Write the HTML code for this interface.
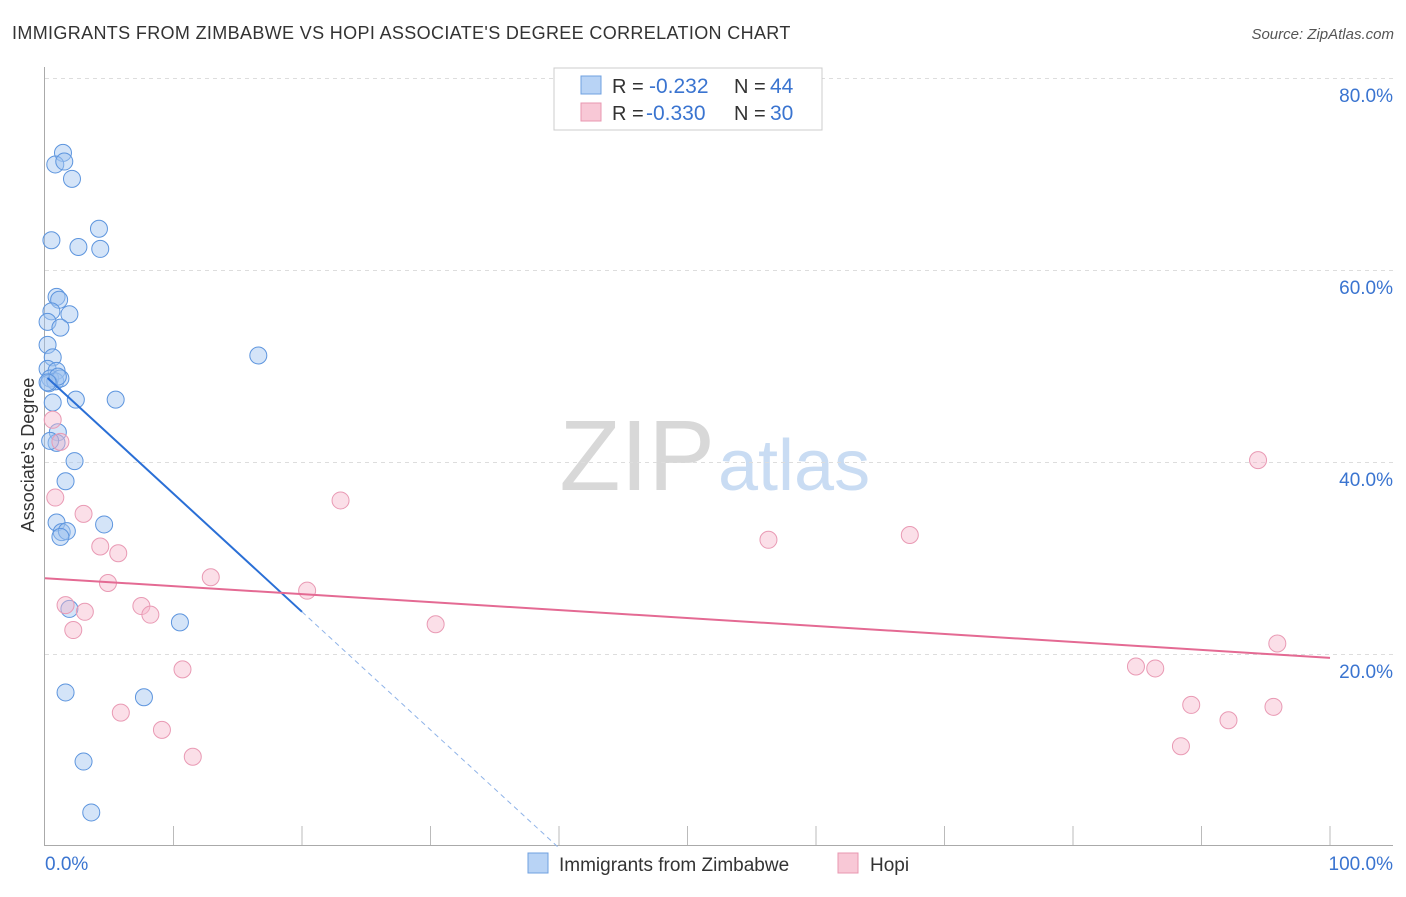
<!DOCTYPE html>
<html><head><meta charset="utf-8"><style>
body{margin:0;background:#fff;font-family:"Liberation Sans",sans-serif;}
svg text{font-family:"Liberation Sans",sans-serif;}
</style></head><body>
<svg id="c" width="1406" height="892">
<text x="12" y="39" font-size="18" fill="#333" letter-spacing="0.35">IMMIGRANTS FROM ZIMBABWE VS HOPI ASSOCIATE'S DEGREE CORRELATION CHART</text>
<text x="1394" y="39" font-size="15" fill="#555" font-style="italic" text-anchor="end">Source: ZipAtlas.com</text>
<text x="715" y="490" font-size="100" fill="#d8d8d8" text-anchor="end" font-family="Liberation Serif">ZIP</text>
<text x="718" y="490" font-size="72" fill="#c9dcf3">atlas</text>
<text transform="translate(34,455) rotate(-90)" font-size="18" fill="#333" text-anchor="middle">Associate's Degree</text>
<g id="grid"></g><g id="pts"></g><g id="lines"></g>
<g>
<rect x="554" y="68" width="268" height="62" fill="#fff" stroke="#ccc"/>
<rect x="581" y="76" width="20" height="18" fill="#b8d3f5" stroke="#6fa0e0"/>
<rect x="581" y="103" width="20" height="18" fill="#f8c8d6" stroke="#e897b0"/>
<text x="612" y="93" font-size="20" fill="#333">R = </text>
<text x="649" y="93" font-size="21" fill="#3a74d0">-0.232</text>
<text x="734" y="93" font-size="20" fill="#333">N = </text>
<text x="770" y="93" font-size="21" fill="#3a74d0">44</text>
<text x="612" y="120" font-size="20" fill="#333">R = </text>
<text x="646" y="120" font-size="21" fill="#3a74d0">-0.330</text>
<text x="734" y="120" font-size="20" fill="#333">N = </text>
<text x="770" y="120" font-size="21" fill="#3a74d0">30</text>
</g>
<g>
<rect x="528" y="853" width="20" height="20" fill="#b8d3f5" stroke="#6fa0e0"/>
<text x="559" y="871" font-size="19" fill="#333">Immigrants from Zimbabwe</text>
<rect x="838" y="853" width="20" height="20" fill="#f8c8d6" stroke="#e897b0"/>
<text x="870" y="871" font-size="19" fill="#333">Hopi</text>
</g>
<text x="45" y="870" font-size="19" fill="#3a74d0">0.0%</text>
<text x="1393" y="870" font-size="19" fill="#3a74d0" text-anchor="end">100.0%</text>
</svg>
<script>
const yTicks=[20,40,60,80];
const yTickLabels=["20.0%","40.0%","60.0%","80.0%"];
const blueX=[1.4,0.8,1.5,2.1,0.5,4.2,2.6,4.3,0.9,1.1,1.9,0.5,0.2,1.2,0.2,0.6,0.2,0.9,0.4,0.8,1.2,0.3,1.0,0.6,2.4,5.5,16.6,1.0,0.9,2.3,1.6,4.6,0.9,1.3,1.7,1.2,1.9,10.5,1.6,7.7,3.0,3.6,0.4,0.2];
const blueY=[72.3,71.1,71.4,69.6,63.2,64.4,62.5,62.3,57.3,57.0,55.5,55.8,54.7,54.1,52.3,51.0,49.8,49.6,48.8,48.5,48.8,48.3,49.0,46.3,46.6,46.6,51.2,43.2,42.1,40.2,38.1,33.6,33.8,32.8,32.9,32.3,24.8,23.4,16.1,15.6,8.9,3.6,42.3,48.4];
const pinkX=[0.6,1.2,0.8,3.0,23.0,4.3,5.7,4.9,12.9,20.4,1.6,3.1,7.5,8.2,2.2,30.4,56.3,67.3,94.4,95.9,10.7,5.9,9.1,11.5,84.9,86.4,89.2,92.1,95.6,88.4];
const pinkY=[44.5,42.2,36.4,34.7,36.1,31.3,30.6,27.5,28.1,26.7,25.2,24.5,25.1,24.2,22.6,23.2,32.0,32.5,40.3,21.2,18.5,14.0,12.2,9.4,18.8,18.6,14.8,13.2,14.6,10.5];
const blueTrend=[49.1,-1.23]; // intercept, slope
const pinkTrend=[28.0,-0.083];
const X0=45,X1=1330,Y0=847,YS=9.6;
const sx=v=>X0+(X1-X0)*v/100, sy=v=>Y0-v*YS;
const NS="http://www.w3.org/2000/svg";
function mk(t,a,p){const e=document.createElementNS(NS,t);for(const k in a)e.setAttribute(k,a[k]);p.appendChild(e);return e;}
const grid=document.getElementById('grid');
yTicks.forEach((t,i)=>{
 const l=mk('line',{x1:45,x2:1393,y1:sy(t)-0.5,y2:sy(t)-0.5,stroke:'#ddd','stroke-dasharray':'4,4'},grid);
 
 
 const tx=mk('text',{x:1393,y:sy(t)+23,'font-size':19,fill:'#3a74d0','text-anchor':'end'},grid);
 tx.textContent=yTickLabels[i];
 
 
});
const ax=mk('line',{x1:44.5,x2:44.5,y1:67,y2:846,stroke:'#aaa'},grid);


const bx=mk('line',{x1:44,x2:1393,y1:845.5,y2:845.5,stroke:'#aaa'},grid);


for(let i=1;i<=10;i++){const tk=mk('line',{x1:sx(i*10),x2:sx(i*10),y1:826,y2:845,stroke:'#bbb'},grid);
 
 }
const pts=document.getElementById('pts');
blueX.forEach((x,i)=>{const c=mk('circle',{cx:sx(x),cy:sy(blueY[i]),r:8.5,fill:'rgba(160,196,240,0.45)',stroke:'#5d95de','stroke-width':1},pts);
 
 });
pinkX.forEach((x,i)=>{const c=mk('circle',{cx:sx(x),cy:sy(pinkY[i]),r:8.5,fill:'rgba(246,184,204,0.45)',stroke:'#e99ab4','stroke-width':1},pts);
 
 });
const lines=document.getElementById('lines');
const bf=x=>blueTrend[0]+blueTrend[1]*x;
const l1=mk('line',{x1:sx(0.2),y1:sy(bf(0.2)),x2:sx(20),y2:sy(bf(20)),stroke:'#2a6fd6','stroke-width':2},lines);


const xz=-blueTrend[0]/blueTrend[1];
const l2=mk('line',{x1:sx(20),y1:sy(bf(20)),x2:sx(xz),y2:sy(0),stroke:'#8fb3e8','stroke-width':1,'stroke-dasharray':'5,4'},lines);


const pf=x=>pinkTrend[0]+pinkTrend[1]*x;
const l3=mk('line',{x1:sx(0),y1:sy(pf(0)),x2:sx(100),y2:sy(pf(100)),stroke:'#e46a93','stroke-width':2},lines);


</script>
</body></html>
